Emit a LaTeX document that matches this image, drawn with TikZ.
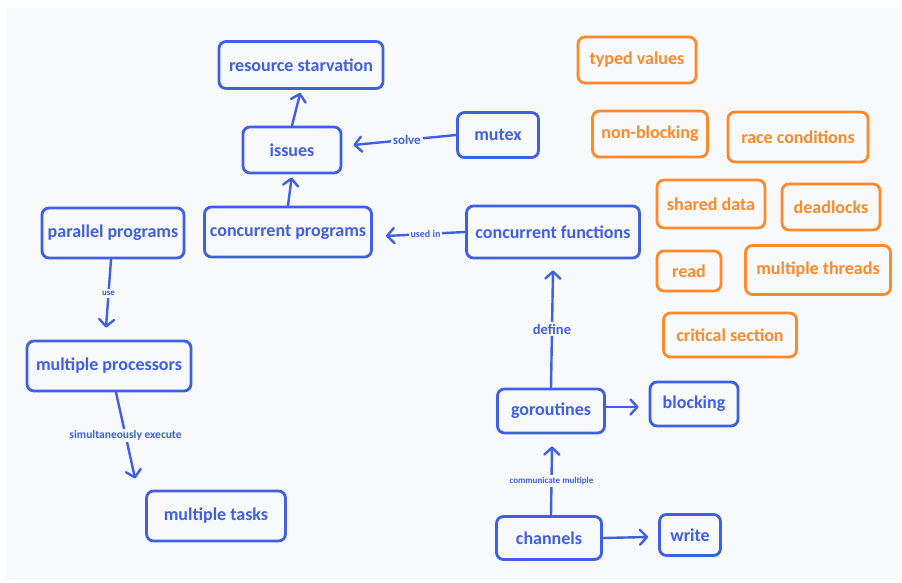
\documentclass[tikz,border=0pt]{standalone}
\usepackage{fontspec}
\setmainfont{Carlito}
\usetikzlibrary{arrows.meta,calc}
\definecolor{bg}{HTML}{F8F9FB}
\definecolor{cblue}{HTML}{3F5FE6}
\definecolor{corange}{HTML}{FD8A2C}
\tikzset{
  box/.style={draw=cblue, text=cblue, line width=2.8pt, rounded corners=7pt, font=\bfseries\fontsize{18}{20}\selectfont, inner sep=0pt},
  obox/.style={box, draw=corange, text=corange},
  conn/.style={draw=cblue, line width=2.4pt, line cap=round, -{Straight Barb[length=7pt,width=15pt,line width=2.4pt,round]}},
  lbl/.style={fill=bg, text=cblue, inner sep=2pt, font=\bfseries\fontsize{#1}{#1}\selectfont},
  lbl/.default=10
}
\begin{document}
\begin{tikzpicture}[x=1pt,y=-1pt]
\useasboundingbox (0,0) rectangle (902,583);
\fill[white] (0,0) rectangle (902,583);
\fill[bg] (6,8) rectangle (900,580);
% blue nodes
\node[box, minimum width=164, minimum height=47] (rs) at (301,65) {resource starvation};
\node[box, minimum width=98, minimum height=46] (iss) at (292,150) {issues};
\node[box, minimum width=81, minimum height=45] (mut) at (498,135) {mutex};
\node[box, minimum width=142, minimum height=50] (pp) at (113,233) {parallel programs};
\node[box, minimum width=167, minimum height=50] (cp) at (288,232) {concurrent programs};
\node[box, minimum width=173, minimum height=52] (cf) at (553,232) {concurrent functions};
\node[box, minimum width=164, minimum height=50] (mp) at (109,366) {multiple processors};
\node[box, minimum width=139, minimum height=50] (mt) at (216,516) {multiple tasks};
\node[box, minimum width=107, minimum height=44] (gr) at (551,411) {goroutines};
\node[box, minimum width=88, minimum height=44] (bl) at (694,404) {blocking};
\node[box, minimum width=105, minimum height=43] (ch) at (549,538) {channels};
\node[box, minimum width=61, minimum height=41] (wr) at (690,535) {write};
% orange nodes
\node[obox, minimum width=118, minimum height=46] (tv) at (637,60) {typed values};
\node[obox, minimum width=115, minimum height=46] (nb) at (650,134) {non-blocking};
\node[obox, minimum width=140, minimum height=50] (rc) at (798,137) {race conditions};
\node[obox, minimum width=108, minimum height=48] (sd) at (711,204) {shared data};
\node[obox, minimum width=98, minimum height=46] (dl) at (831,207) {deadlocks};
\node[obox, minimum width=64, minimum height=40] (rd) at (689,271) {read};
\node[obox, minimum width=145, minimum height=49] (mth) at (818,270) {multiple threads};
\node[obox, minimum width=133, minimum height=44] (cs) at (730,335) {critical section};
% connectors
\draw[conn, shorten >=3pt] (iss.north) -- (rs.south);
\draw[conn, shorten >=3pt] (cp.north) -- (iss.south);
\draw[conn] (mut.west) -- node[lbl=13, pos=0.48] {solve} ($(iss.east)+(11,-5)$);
\draw[conn] (cf.west) -- node[lbl=10, pos=0.5] {used in} ($(cp.east)+(13,4)$);
\draw[conn] ($(pp.south)+(-2,0)$) -- node[lbl=9, pos=0.5] {use} ($(mp.north)+(-3,-12)$);
\draw[conn] ($(mp.south)+(7,0)$) -- node[lbl=11.5, pos=0.5] {simultaneously execute} ($(mt.north west)+(-10,-11)$);
\draw[conn] (gr.north) -- node[lbl=14.5, pos=0.5] {define} ($(cf.south)+(0,11)$);
\draw[conn] ($(gr.east)+(0,-4)$) -- ($(bl.west)+(-10,3)$);
\draw[conn] ($(ch.north)+(2,0)$) -- node[lbl=9, pos=0.5] {communicate multiple} ($(gr.south)+(1,12)$);
\draw[conn] (ch.east) -- ($(wr.west)+(-10,2)$);
\end{tikzpicture}
\end{document}
